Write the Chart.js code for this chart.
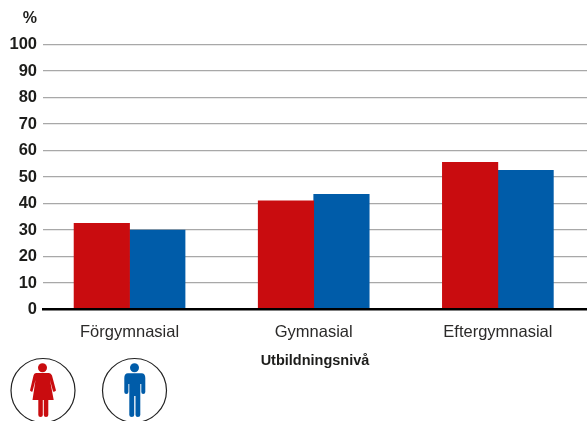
<!DOCTYPE html>
<html lang="sv">
<head>
  <meta charset="UTF-8" />
  <title>Utbildningsnivå</title>
  <script src="https://cdn.jsdelivr.net/npm/chart.js"></script>
  <style>
    html, body { margin: 0; padding: 0; background: #fff; overflow: hidden; }
    #wrap { position: relative; width: 587px; height: 421px; }
    #icons { position: absolute; left: 0; top: 0; }
  </style>
</head>
<body>
  <div id="wrap">
    <canvas id="chart" width="587" height="421"></canvas>
    <!-- Piktogram kvinna / man -->
    <svg id="icons" width="587" height="421">
      <circle cx="43" cy="390.5" r="32" fill="none" stroke="#222" stroke-width="1.2" />
      <g fill="#c90c0f">
        <circle cx="42.5" cy="367.7" r="4.5" />
        <path d="M36 373 H49 Q51 373 52 375.5 L56 390.5 Q55 392 53 391.5 L50 380 L53.7 400 H32.5 L35.5 380 L32.5 391.5 Q31 392 30 390.5 L33.5 375.5 Q34 373 36 373 Z" />
        <path d="M38.3 400 H42.8 V415 Q42.8 417 40.5 417 Q38.3 417 38.3 415 Z" />
        <path d="M43.8 400 H48.3 V415 Q48.3 417 46 417 Q43.8 417 43.8 415 Z" />
      </g>
      <circle cx="134.5" cy="390.5" r="32" fill="none" stroke="#222" stroke-width="1.2" />
      <g fill="#005ca9">
        <circle cx="134.5" cy="367.7" r="4.5" />
        <path d="M128 373.3 H141.5 Q145.3 373.3 145.3 378 V392 Q145.3 394 143.2 394 Q141.3 394 141.3 392 V384 H140.3 V415 Q140.3 417 137.9 417 Q135.5 417 135.5 415 V396 H134.2 V415 Q134.2 417 131.8 417 Q129.3 417 129.3 415 V384 H128.4 V392 Q128.4 394 126.3 394 Q124.3 394 124.3 392 V378 Q124.3 373.3 128 373.3 Z" />
      </g>
    </svg>
  </div>

<script>
  const categories = ["Förgymnasial", "Gymnasial", "Eftergymnasial"];
  const kvinnor = [32.5, 41, 55.5];
  const man = [30, 43.5, 52.5];
  const yTicks = [0, 10, 20, 30, 40, 50, 60, 70, 80, 90, 100];

  const toPoints = values => values.map((v, i) => ({ x: i + 1, y: v }));

  // procenttecknet ovanför y-axeln
  const percentLabel = {
    id: "percentLabel",
    afterDraw(chart) {
      const { ctx, scales } = chart;
      ctx.save();
      ctx.font = "bold 16px 'Liberation Sans'";
      ctx.fillStyle = "#1d1d1b";
      ctx.textAlign = "right";
      ctx.textBaseline = "middle";
      ctx.fillText("%", 37, scales.y.getPixelForValue(100) - 26);
      ctx.restore();
    }
  };

  new Chart(document.getElementById("chart"), {
    type: "bar",
    data: {
      datasets: [
        { label: "Kvinnor", data: toPoints(kvinnor), backgroundColor: "#c90c0f", barThickness: 55.5 },
        { label: "Män", data: toPoints(man), backgroundColor: "#005ca9", barThickness: 55.5 }
      ]
    },
    plugins: [percentLabel],
    options: {
      responsive: false,
      animation: false,
      layout: { padding: { top: 44.5, left: 0, right: 0, bottom: 0 } },
      plugins: { legend: { display: false }, tooltip: { enabled: false } },
      scales: {
        x: {
          type: "linear",
          offset: false,
          min: 0.53,
          max: 3.484,
          afterBuildTicks(scale) {
            scale.ticks = categories.map((c, i) => ({ value: i + 1 }));
          },
          afterFit(scale) { scale.height = 111.5; },
          grid: { display: false },
          border: { display: true, color: "#000", width: 2.5, z: 1 },
          ticks: {
            autoSkip: false,
            maxRotation: 0,
            padding: 5,
            color: "#2b2a29",
            font: { family: "'Liberation Sans'", size: 16.5 },
            callback: value => categories[value - 1]
          },
          title: {
            display: true,
            text: "Utbildningsnivå",
            color: "#1d1d1b",
            font: { family: "'Liberation Sans'", size: 14.5, weight: "bold" },
            padding: { top: 8, bottom: 51 }
          }
        },
        y: {
          min: 0,
          max: 100,
          afterBuildTicks(scale) {
            scale.ticks = yTicks.map(v => ({ value: v }));
          },
          afterFit(scale) { scale.width = 43; },
          border: { display: false },
          grid: {
            drawTicks: false,
            lineWidth: 1.2,
            color: ctx => ctx.tick && ctx.tick.value === 0 ? "rgba(0,0,0,0)" : "#a8a8a8"
          },
          ticks: {
            padding: 6,
            color: "#1d1d1b",
            font: { family: "'Liberation Sans'", size: 16.5, weight: "bold" }
          }
        }
      }
    }
  });
</script>
</body>
</html>
